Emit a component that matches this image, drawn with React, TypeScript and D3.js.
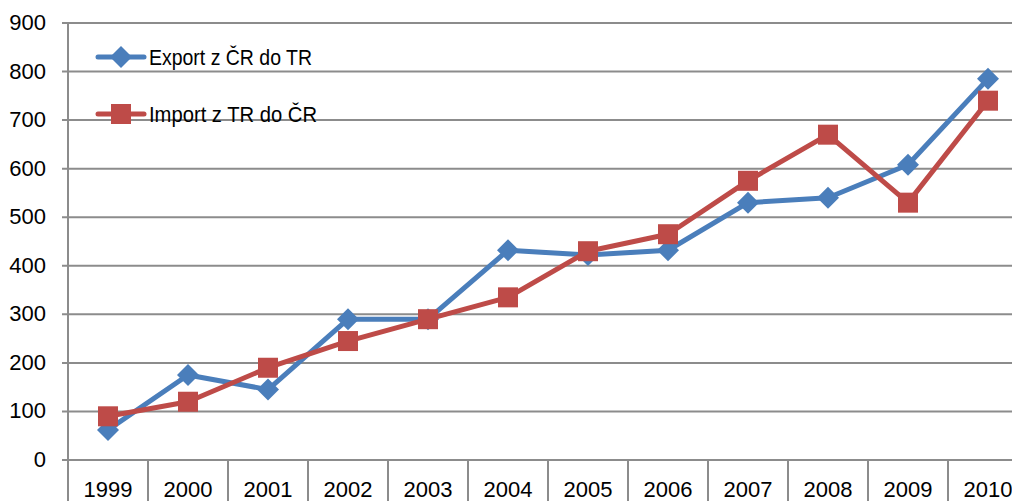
import React from 'react';
import * as d3 from 'd3';

const years = ['1999', '2000', '2001', '2002', '2003', '2004', '2005', '2006', '2007', '2008', '2009', '2010'];
const exportValues = [62, 175, 145, 290, 290, 432, 422, 432, 530, 540, 608, 785];
const importValues = [90, 120, 190, 245, 290, 335, 430, 465, 575, 670, 530, 740];
const yTicks = [0, 100, 200, 300, 400, 500, 600, 700, 800, 900];
const seriesNames = ['Export z ČR do TR', 'Import z TR do ČR'];

const BLUE = '#4A7EBB';
const RED = '#BE4B48';
const GRID = '#8C8C8C';
const FONT = '"Liberation Sans Narrow", "Arial Narrow", "Liberation Sans", sans-serif';

const App: React.FC = () => {
  const width = 1012;
  const height = 501;
  const left = 68;
  const top = 23;
  const bottom = 460;

  const x = d3.scaleBand<string>().domain(years).range([left, left + 80 * years.length]).padding(0);
  const y = d3.scaleLinear().domain([0, 900]).range([bottom, top]);
  const cx = (i: number) => (x(years[i]) as number) + x.bandwidth() / 2;

  const line = d3
    .line<number>()
    .x((_, i) => cx(i))
    .y((d) => y(d));

  const diamond = (px: number, py: number, r: number) =>
    `M${px},${py - r}L${px + r},${py}L${px},${py + r}L${px - r},${py}Z`;

  return (
    <svg width={width} height={height} style={{ position: 'absolute', left: 0, top: 0, background: '#fff' }}>
      {/* grid */}
      {yTicks.map((t) => (
        <g key={t}>
          <line x1={left - 6} x2={width} y1={y(t)} y2={y(t)} stroke={GRID} strokeWidth={2} />
          <text x={46} y={y(t) + 7} textAnchor="end" fontFamily={FONT} fontSize={22} fill="#000">
            {t}
          </text>
        </g>
      ))}
      <line x1={left} x2={left} y1={top} y2={height} stroke={GRID} strokeWidth={2} />
      {years.map((yr, i) => (
        <g key={yr}>
          <line
            x1={(x(yr) as number) + x.bandwidth()}
            x2={(x(yr) as number) + x.bandwidth()}
            y1={bottom}
            y2={height}
            stroke={GRID}
            strokeWidth={2}
          />
          <text x={cx(i)} y={497} textAnchor="middle" fontFamily={FONT} fontSize={22} fill="#000">
            {yr}
          </text>
        </g>
      ))}

      {/* series */}
      <path d={line(exportValues) as string} fill="none" stroke={BLUE} strokeWidth={5} strokeLinejoin="round" />
      {exportValues.map((v, i) => (
        <path key={i} d={diamond(cx(i), y(v), 11)} fill={BLUE} />
      ))}
      <path d={line(importValues) as string} fill="none" stroke={RED} strokeWidth={5} strokeLinejoin="round" />
      {importValues.map((v, i) => (
        <rect key={i} x={cx(i) - 10} y={y(v) - 10} width={20} height={20} fill={RED} />
      ))}

      {/* legend */}
      {seriesNames.map((name, i) => {
        const ly = 57 + i * 57;
        const color = i === 0 ? BLUE : RED;
        return (
          <g key={name}>
            <line x1={98} x2={144} y1={ly} y2={ly} stroke={color} strokeWidth={5} strokeLinecap="round" />
            {i === 0 ? (
              <path d={diamond(121, ly, 11)} fill={color} />
            ) : (
              <rect x={111} y={ly - 10} width={20} height={20} fill={color} />
            )}
            <text
              x={149}
              y={ly + 8}
              fontFamily={FONT}
              fontSize={22}
              fill="#000"
              textLength={i === 0 ? 163 : 168}
              lengthAdjust="spacingAndGlyphs"
            >
              {name}
            </text>
          </g>
        );
      })}
    </svg>
  );
};

export default App;
